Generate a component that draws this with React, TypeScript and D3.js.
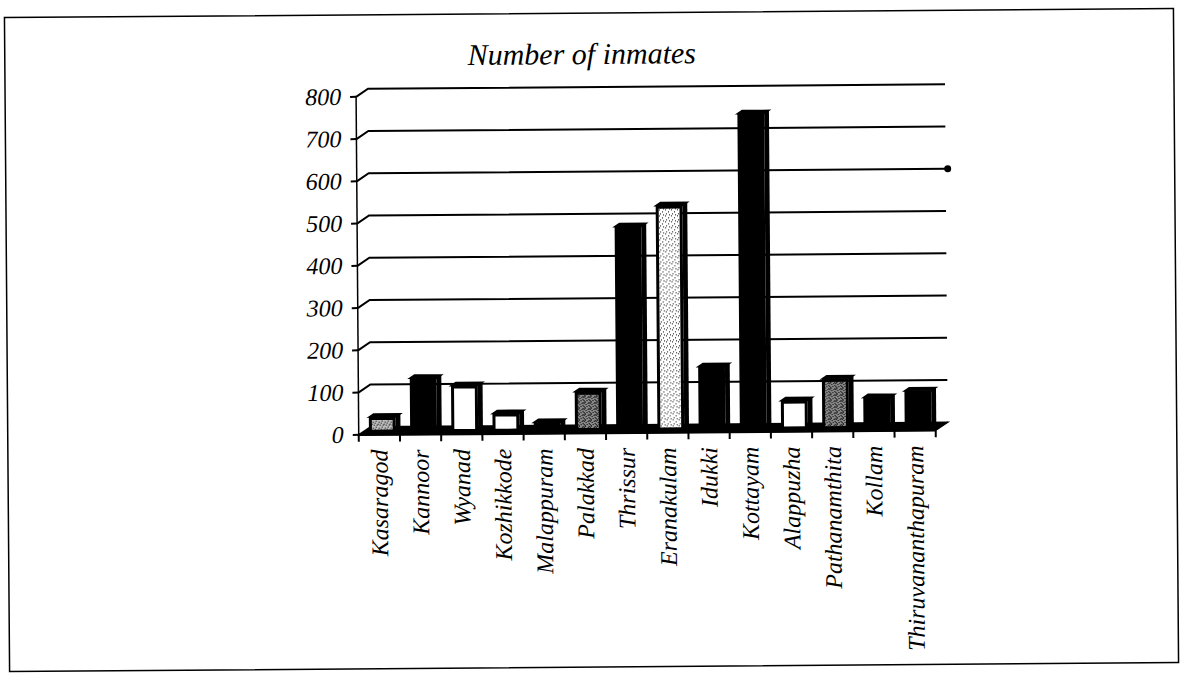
import { useEffect, useRef } from 'react';
import * as d3 from 'd3';

const districts = [
  'Kasaragod', 'Kannoor', 'Wyanad', 'Kozhikkode', 'Malappuram', 'Palakkad', 'Thrissur',
  'Eranakulam', 'Idukki', 'Kottayam', 'Alappuzha', 'Pathanamthita', 'Kollam', 'Thiruvananthapuram',
];
const inmates = [37, 128, 110, 43, 21, 93, 483, 532, 150, 748, 68, 119, 74, 89];
const yTicks = [0, 100, 200, 300, 400, 500, 600, 700, 800];
// fill style per bar, same order as districts
const barFills = ['mid', 'black', 'white', 'white', 'black', 'dark', 'black', 'light', 'black', 'black', 'white', 'dark', 'black', 'black'];

const W = 1184;
const H = 678;

const InmatesChart = () => {
  const ref = useRef<SVGSVGElement>(null);

  useEffect(() => {
    const svg = d3.select(ref.current);
    svg.selectAll('*').remove();

    const font = '"Liberation Serif", "Times New Roman", serif';
    const left = 358, right = 935, top = 95, bottom = 433;
    const DX = 12, DY = -8; // depth of the 3d box
    const f0 = 0.25, f1 = 0.65; // bar depth span

    // stipple patterns
    const defs = svg.append('defs');
    const pat = (id: string, bg: string, dots: [number, number][], size: number) => {
      const p = defs.append('pattern').attr('id', id).attr('patternUnits', 'userSpaceOnUse')
        .attr('width', size).attr('height', size);
      p.append('rect').attr('width', size).attr('height', size).attr('fill', bg);
      dots.forEach(([a, b]) => p.append('rect').attr('x', a).attr('y', b).attr('width', 1).attr('height', 1).attr('fill', '#000'));
    };
    pat('light', '#fff', [[0, 0], [3, 2], [1, 4], [4, 5]], 6);
    pat('mid', '#bbb', [[0, 0], [2, 1], [4, 3], [1, 3], [3, 5], [5, 2]], 6);
    pat('dark', '#888', [[0, 0], [1, 1], [2, 0], [3, 2], [4, 4], [0, 3], [5, 1], [2, 5], [1, 4]], 6);

    const g = svg.append('g').attr('transform', `rotate(-0.45, ${W / 2}, ${H / 2})`);

    g.append('rect')
      .attr('x', 7).attr('y', 13).attr('width', 1169).attr('height', 654)
      .attr('fill', 'none').attr('stroke', '#000').attr('stroke-width', 1.5);

    const band = d3.scaleBand<string>().domain(districts).range([left, right]);
    const x = d3.scaleBand<string>().domain(districts).range([left, right])
      .paddingInner(0.35).paddingOuter(0.175);
    const y = d3.scaleLinear().domain([0, 800]).range([bottom, top]);

    // back wall gridlines
    g.selectAll('.grid')
      .data(yTicks.filter(t => t > 0))
      .enter()
      .append('path')
      .attr('class', 'grid')
      .attr('d', d => `M${left},${y(d)}L${left + DX},${y(d) + DY}L${right + DX},${y(d) + DY}`)
      .attr('fill', 'none').attr('stroke', '#000').attr('stroke-width', 2);

    g.append('circle')
      .attr('cx', right + DX + 2).attr('cy', y(600) + DY).attr('r', 3.5).attr('fill', '#000');

    // floor
    g.append('path')
      .attr('d', `M${left},${bottom}L${right},${bottom}L${right + DX},${bottom + DY}L${left + DX},${bottom + DY}Z`)
      .attr('fill', '#000').attr('stroke', '#000').attr('stroke-width', 1.5);

    const bw = x.bandwidth();
    const ddx = DX * (f1 - f0), ddy = DY * (f1 - f0);
    const bars = g.selectAll('.bar')
      .data(districts.map((d, i) => ({ d, v: inmates[i], f: barFills[i] })))
      .enter()
      .append('g')
      .attr('class', 'bar');

    bars.append('path')
      .attr('d', b => {
        const x0 = (x(b.d) ?? 0) + DX * f0, yt = y(b.v) + DY * f0, yb = y(0) + DY * f0;
        return `M${x0 + bw},${yt}L${x0 + bw + ddx},${yt + ddy}L${x0 + bw + ddx},${yb + ddy}L${x0 + bw},${yb}Z`;
      })
      .attr('fill', '#000');

    bars.append('path')
      .attr('d', b => {
        const x0 = (x(b.d) ?? 0) + DX * f0, yt = y(b.v) + DY * f0;
        return `M${x0},${yt}L${x0 + bw},${yt}L${x0 + bw + ddx},${yt + ddy}L${x0 + ddx},${yt + ddy}Z`;
      })
      .attr('fill', '#000').attr('stroke', '#000').attr('stroke-width', 1.5);

    bars.append('rect')
      .attr('x', b => (x(b.d) ?? 0) + DX * f0 + 1.5)
      .attr('y', b => y(b.v) + DY * f0 + 1.5)
      .attr('width', bw - 3)
      .attr('height', b => Math.max(0, y(0) - y(b.v) - 3))
      .attr('fill', b => b.f === 'black' ? '#000' : b.f === 'white' ? '#fff' : `url(#${b.f})`)
      .attr('stroke', '#000').attr('stroke-width', 3);

    // front axis
    g.append('line')
      .attr('x1', left).attr('x2', left).attr('y1', top).attr('y2', bottom)
      .attr('stroke', '#000').attr('stroke-width', 1.5);
    g.append('line')
      .attr('x1', left).attr('x2', right).attr('y1', bottom).attr('y2', bottom)
      .attr('stroke', '#000').attr('stroke-width', 2.5);

    g.selectAll('.ytick')
      .data(yTicks)
      .enter()
      .append('line')
      .attr('x1', left - 6).attr('x2', left)
      .attr('y1', d => y(d)).attr('y2', d => y(d))
      .attr('stroke', '#000').attr('stroke-width', 2);

    g.selectAll('.ylab')
      .data(yTicks)
      .enter()
      .append('text')
      .attr('x', left - 15).attr('y', d => y(d) + 8)
      .attr('text-anchor', 'end')
      .style('font-family', font).style('font-style', 'italic').style('font-size', '24px')
      .text(d => d);

    const edges = [...districts.map(d => band(d) ?? 0), right];
    g.selectAll('.xtick')
      .data(edges)
      .enter()
      .append('line')
      .attr('x1', d => d).attr('x2', d => d)
      .attr('y1', bottom).attr('y2', bottom + 7)
      .attr('stroke', '#000').attr('stroke-width', 2);

    g.selectAll('.xlab')
      .data(districts)
      .enter()
      .append('text')
      .attr('transform', d => `translate(${(band(d) ?? 0) + band.bandwidth() / 2 + 8},${bottom + 15}) rotate(-90)`)
      .attr('text-anchor', 'end')
      .style('font-family', font).style('font-style', 'italic').style('font-size', '24px')
      .text(d => d);

    g.append('text')
      .attr('x', 584).attr('y', 64)
      .attr('text-anchor', 'middle')
      .style('font-family', font).style('font-style', 'italic').style('font-size', '30px')
      .text('Number of inmates');
  }, []);

  return (
    <svg ref={ref} width={W} height={H} style={{ position: 'absolute', left: 0, top: 0, background: '#fff' }} />
  );
};

export default function App() {
  return <InmatesChart />;
}
